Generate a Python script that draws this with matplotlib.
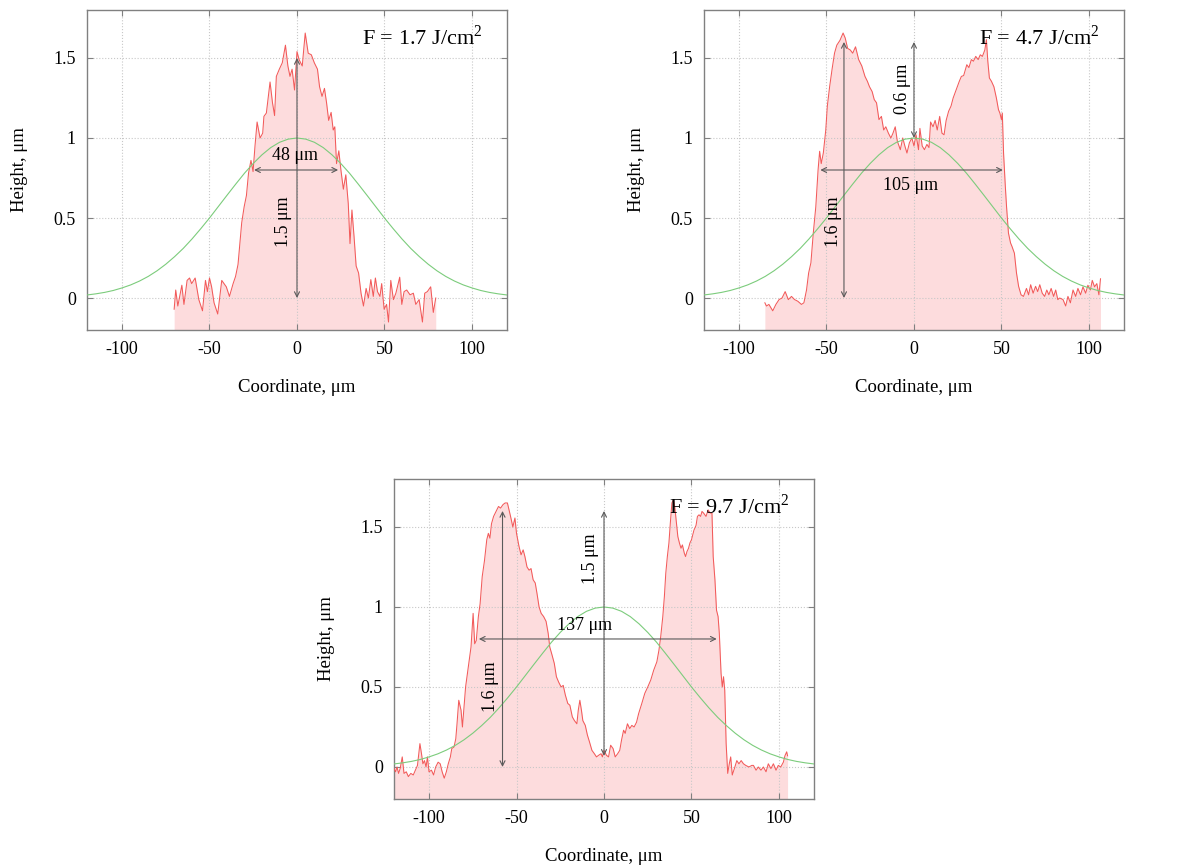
"""Surface profiles of laser craters at three fluences with the Gaussian beam profile"""
import matplotlib.pyplot as plt
from matplotlib.ticker import FormatStrFormatter
import numpy as np

plt.rcParams['font.family'] = ['Liberation Serif', 'DejaVu Serif']
plt.rcParams['mathtext.fontset'] = 'custom'
plt.rcParams['mathtext.rm'] = 'Liberation Serif'
plt.rcParams['axes.unicode_minus'] = False

# beam profile (normalised), read every 5 um
gauss_x = np.arange(-120, 121, 5)
gauss_y = [0.019, 0.026, 0.035, 0.047, 0.063, 0.082, 0.106, 0.135, 0.170, 0.211,
           0.258, 0.310, 0.369, 0.433, 0.500, 0.571, 0.642, 0.712, 0.780, 0.841,
           0.895, 0.940, 0.973, 0.993, 1.000, 0.993, 0.973, 0.940, 0.895, 0.841,
           0.780, 0.712, 0.642, 0.571, 0.500, 0.433, 0.369, 0.310, 0.258, 0.211,
           0.170, 0.135, 0.106, 0.082, 0.063, 0.047, 0.035, 0.026, 0.019]

# measured profiles (coordinate um, height um)
profile_17 = [
    (-70.2, -0.07), (-69.3, 0.05), (-68.1, -0.05), (-65.8, 0.08), (-64.6, -0.04), (-62.8, 0.11),
    (-61.4, 0.125), (-60.2, 0.09), (-58.2, 0.125), (-56.1, -0.01), (-54.0, -0.08), (-52.3, 0.11),
    (-51.2, 0.04), (-50.0, 0.125), (-48.8, 0.07), (-47.4, -0.03), (-45.3, -0.10), (-43.0, 0.11),
    (-40.4, 0.07), (-38.6, 0.01), (-36.5, 0.09), (-35.1, 0.135), (-33.7, 0.21), (-31.6, 0.47),
    (-30.2, 0.57), (-28.9, 0.64), (-27.7, 0.78), (-26.3, 0.86), (-25.1, 0.79), (-24.0, 0.95),
    (-22.8, 1.10), (-21.1, 1.00), (-19.6, 1.03), (-18.9, 1.135), (-17.5, 1.156), (-15.4, 1.35),
    (-14.0, 1.22), (-12.8, 1.14), (-11.8, 1.385), (-10.1, 1.43), (-8.4, 1.47), (-6.6, 1.58),
    (-5.2, 1.45), (-4.0, 1.385), (-2.8, 1.43), (-1.4, 1.30), (0.0, 1.54), (1.2, 1.49),
    (3.0, 1.45), (4.7, 1.656), (6.4, 1.53), (8.2, 1.52), (9.9, 1.47), (11.7, 1.43),
    (12.9, 1.32), (14.3, 1.26), (15.7, 1.31), (16.9, 1.22), (18.1, 1.11), (19.5, 1.16),
    (20.7, 1.05), (21.6, 1.07), (22.6, 0.84), (23.9, 0.92), (25.1, 0.80), (26.5, 0.68),
    (27.9, 0.77), (29.3, 0.59), (30.3, 0.34), (31.4, 0.55), (32.6, 0.385), (33.8, 0.20),
    (35.2, 0.156), (36.6, 0.03), (38.0, -0.05), (39.5, 0.06), (40.8, 0.0), (42.2, 0.115),
    (43.6, 0.01), (44.8, 0.125), (46.0, 0.04), (47.4, 0.01), (48.4, 0.09), (49.8, -0.07),
    (51.2, -0.04), (52.3, -0.15), (53.6, 0.11), (55.1, -0.01), (56.5, 0.03), (57.4, 0.07),
    (58.7, 0.13), (59.9, -0.04), (61.2, 0.04), (62.7, 0.05), (64.6, 0.02), (66.5, 0.03),
    (67.9, -0.04), (69.8, -0.01), (71.7, -0.15), (73.0, 0.03), (74.5, 0.04), (76.4, 0.07),
    (77.9, -0.09), (79.3, 0.0)]

profile_47 = [
    (-85.2, -0.03), (-84.3, -0.05), (-82.9, -0.04), (-80.7, -0.08), (-78.9, -0.04), (-77.1, -0.01),
    (-75.4, 0.0), (-73.6, 0.04), (-71.8, -0.01), (-70.0, 0.01), (-68.2, -0.01), (-66.4, -0.02),
    (-64.3, -0.04), (-62.9, -0.03), (-61.4, 0.05), (-60.2, 0.156), (-58.9, 0.22), (-57.5, 0.41),
    (-56.1, 0.57), (-54.8, 0.80), (-53.9, 0.917), (-53.0, 0.84), (-51.8, 0.906), (-50.4, 1.05),
    (-49.5, 1.20), (-48.2, 1.32), (-46.8, 1.43), (-45.4, 1.53), (-44.1, 1.58), (-42.3, 1.61),
    (-40.5, 1.656), (-39.3, 1.625), (-37.9, 1.56), (-36.4, 1.55), (-35.0, 1.53), (-33.4, 1.57),
    (-31.6, 1.49), (-29.8, 1.45), (-28.0, 1.385), (-26.6, 1.354), (-25.4, 1.32), (-23.9, 1.29),
    (-22.7, 1.24), (-21.4, 1.22), (-20.0, 1.115), (-18.6, 1.135), (-17.3, 1.05), (-16.1, 1.07),
    (-14.6, 1.03), (-13.2, 1.0), (-12.0, 1.03), (-10.7, 1.07), (-9.5, 0.98), (-7.8, 0.927),
    (-6.4, 1.0), (-5.2, 0.95), (-4.0, 0.906), (-2.6, 0.97), (-1.2, 1.0), (0.0, 0.95),
    (1.2, 1.02), (2.6, 0.927), (3.4, 1.06), (4.7, 0.95), (6.0, 0.927), (7.4, 0.96),
    (8.6, 0.94), (9.5, 1.10), (10.9, 1.07), (12.1, 1.11), (13.3, 1.05), (14.7, 1.135),
    (16.0, 1.03), (17.2, 1.02), (18.4, 1.11), (19.8, 1.167), (21.2, 1.20), (22.4, 1.25),
    (24.1, 1.30), (25.9, 1.354), (27.1, 1.385), (28.4, 1.39), (30.2, 1.458), (31.4, 1.44),
    (32.8, 1.49), (34.0, 1.48), (35.3, 1.51), (36.7, 1.49), (37.9, 1.52), (39.1, 1.51),
    (40.5, 1.55), (41.4, 1.615), (42.2, 1.48), (43.1, 1.375), (44.3, 1.354), (45.7, 1.32),
    (47.1, 1.25), (48.3, 1.177), (49.1, 1.156), (50.0, 1.115), (50.5, 1.156), (51.2, 0.906),
    (52.2, 0.70), (52.9, 0.573), (54.0, 0.406), (55.2, 0.344), (56.0, 0.323), (57.4, 0.28),
    (58.6, 0.156), (59.8, 0.073), (61.2, 0.02), (62.6, 0.01), (64.3, 0.06), (65.5, 0.02),
    (66.7, 0.083), (68.1, 0.03), (69.5, 0.073), (70.7, 0.04), (71.9, 0.083), (73.3, 0.03),
    (74.7, 0.01), (75.9, 0.05), (77.1, 0.02), (78.4, 0.06), (79.8, 0.01), (81.0, 0.05),
    (82.2, -0.01), (83.3, 0.0), (85.2, -0.01), (86.7, -0.05), (88.0, 0.01), (89.4, -0.03),
    (90.9, 0.05), (92.4, 0.01), (93.7, 0.06), (95.2, 0.02), (96.6, 0.07), (98.1, 0.03),
    (99.4, 0.08), (100.8, 0.05), (101.9, 0.11), (103.2, 0.07), (104.5, 0.09), (105.7, 0.02),
    (106.6, 0.12)]

profile_97 = [
    (-120.0, -0.01), (-119.1, -0.03), (-118.3, 0.0), (-117.4, -0.04), (-116.5, -0.01), (-115.3, 0.063),
    (-114.3, -0.04), (-113.0, -0.03), (-111.8, -0.06), (-110.4, -0.04), (-109.0, -0.05), (-107.8, -0.02),
    (-106.6, 0.01), (-105.2, 0.146), (-104.3, 0.083), (-103.5, 0.02), (-102.6, 0.04), (-101.7, 0.0),
    (-100.9, 0.063), (-100.0, -0.03), (-98.6, -0.02), (-97.4, -0.05), (-96.2, 0.0), (-94.8, 0.03),
    (-93.6, 0.02), (-92.5, -0.03), (-91.3, -0.07), (-90.1, -0.03), (-89.0, 0.02), (-87.8, 0.063),
    (-87.0, 0.115), (-85.7, 0.125), (-84.7, 0.177), (-84.0, 0.27), (-83.0, 0.417), (-81.7, 0.355),
    (-80.9, 0.25), (-80.0, 0.376), (-79.1, 0.50), (-78.3, 0.564), (-77.0, 0.668), (-76.0, 0.75),
    (-74.8, 0.96), (-73.9, 0.77), (-73.0, 0.79), (-71.8, 0.94), (-70.8, 1.02), (-69.6, 1.19),
    (-68.3, 1.29), (-67.0, 1.42), (-66.1, 1.46), (-65.2, 1.43), (-64.3, 1.52), (-63.1, 1.566),
    (-61.7, 1.597), (-60.3, 1.628), (-59.1, 1.618), (-57.7, 1.64), (-56.5, 1.65), (-55.2, 1.65),
    (-53.4, 1.566), (-52.1, 1.50), (-50.9, 1.556), (-50.0, 1.46), (-48.6, 1.38), (-47.4, 1.326),
    (-46.2, 1.357), (-45.2, 1.315), (-44.0, 1.25), (-42.8, 1.23), (-41.7, 1.24), (-40.5, 1.17),
    (-39.3, 1.15), (-38.3, 1.085), (-37.1, 1.0), (-35.9, 0.96), (-34.5, 0.94), (-33.1, 0.91),
    (-31.9, 0.835), (-31.0, 0.75), (-29.7, 0.70), (-28.4, 0.647), (-27.2, 0.564), (-25.9, 0.53),
    (-24.5, 0.50), (-23.3, 0.51), (-22.1, 0.45), (-20.7, 0.397), (-19.5, 0.386), (-18.1, 0.313),
    (-16.9, 0.29), (-15.5, 0.27), (-14.7, 0.355), (-13.8, 0.417), (-12.9, 0.355), (-12.1, 0.29),
    (-10.7, 0.26), (-9.5, 0.20), (-8.3, 0.157), (-6.9, 0.104), (-5.5, 0.083), (-4.3, 0.063),
    (-3.1, 0.073), (-1.7, 0.083), (-0.9, 0.063), (0.0, 0.104), (1.4, 0.073), (2.6, 0.063),
    (3.8, 0.136), (5.2, 0.115), (6.4, 0.063), (7.8, 0.083), (9.0, 0.104), (10.0, 0.167),
    (11.2, 0.23), (12.1, 0.21), (13.4, 0.27), (14.7, 0.24), (15.9, 0.26), (17.2, 0.25),
    (18.6, 0.28), (19.8, 0.334), (21.6, 0.397), (23.3, 0.46), (25.0, 0.50), (26.7, 0.543),
    (28.4, 0.605), (30.2, 0.657), (31.4, 0.73), (32.4, 0.814), (33.6, 0.94), (34.5, 1.065),
    (35.3, 1.21), (36.2, 1.315), (37.1, 1.40), (37.9, 1.524), (38.8, 1.65), (39.7, 1.67),
    (40.5, 1.62), (41.4, 1.524), (42.2, 1.44), (43.1, 1.40), (44.0, 1.367), (44.8, 1.388),
    (45.9, 1.336), (46.6, 1.315), (47.4, 1.346), (48.3, 1.367), (49.1, 1.40), (50.0, 1.42),
    (51.4, 1.48), (52.6, 1.51), (53.4, 1.566), (54.3, 1.576), (55.2, 1.566), (56.0, 1.597),
    (56.9, 1.587), (58.3, 1.566), (59.5, 1.607), (60.7, 1.587), (61.7, 1.587), (62.4, 1.315),
    (63.4, 1.17), (64.3, 0.98), (65.2, 0.94), (65.9, 0.835), (66.9, 0.585), (67.6, 0.50),
    (68.3, 0.564), (69.0, 0.48), (69.8, 0.146), (70.7, -0.04), (71.6, 0.02), (72.4, 0.063),
    (73.3, -0.05), (74.5, -0.01), (75.9, 0.04), (77.1, 0.02), (78.4, 0.04), (79.7, 0.02),
    (81.0, 0.01), (82.8, 0.0), (84.5, 0.01), (85.4, 0.01), (86.9, -0.02), (88.2, 0.0),
    (89.7, -0.02), (91.1, 0.0), (92.6, -0.03), (93.9, 0.02), (95.4, -0.01), (96.8, 0.02),
    (98.3, -0.02), (99.6, 0.01), (101.0, 0.0), (102.5, 0.03), (103.4, 0.07), (104.4, 0.095),
    (104.9, 0.07)]

fluences = ['1.7', '4.7', '9.7']
x_ticks = [-100, -50, 0, 50, 100]
y_ticks = [0, 0.5, 1, 1.5]

RED = '#f25a5a'
FILL = '#fddcdd'
GREEN = '#7ccc7c'
ARROW = '#5a5a5a'
YMIN = -0.2


def arrow(axe, x0, y0, x1, y1):
    axe.annotate('', xy=(x1, y1), xytext=(x0, y0),
                 arrowprops=dict(arrowstyle='<->', color=ARROW, lw=0.8,
                                 shrinkA=0, shrinkB=0, mutation_scale=9))


def plot_panel(axe, profile, fluence):
    x, y = np.array(profile).T
    axe.fill_between(x, y, YMIN, color=FILL, lw=0, zorder=1)
    axe.plot(x, y, color=RED, lw=0.75, zorder=3)
    axe.plot(gauss_x, gauss_y, color=GREEN, lw=0.8, zorder=3)

    axe.set_xlim(-120, 120)
    axe.set_ylim(YMIN, 1.8)
    axe.set_xticks(x_ticks)
    axe.set_yticks(y_ticks)
    axe.yaxis.set_major_formatter(FormatStrFormatter('%g'))
    axe.tick_params(direction='in', length=4, width=0.8, color='#808080',
                    labelsize=13, pad=8, top=True, right=True)
    for spine in axe.spines.values():
        spine.set_color('#808080')
        spine.set_linewidth(1.0)
    axe.grid(color='#c8c8c8', linestyle=':', linewidth=0.8)

    axe.set_xlabel('Coordinate, μm', fontsize=13.5, labelpad=15)
    axe.set_ylabel('Height, μm', fontsize=13.5, labelpad=18)
    axe.text(37, 1.63, 'F = ' + fluence + ' J/cm$^2$', fontsize=16, va='center', ha='left')


fig = plt.figure(figsize=(11.79, 8.68), dpi=100, facecolor='w')
ax1 = fig.add_axes([0.0738, 0.6198, 0.3562, 0.3687])
ax2 = fig.add_axes([0.5971, 0.6198, 0.3562, 0.3687])
ax3 = fig.add_axes([0.3342, 0.0795, 0.3562, 0.3687])

plot_panel(ax1, profile_17, fluences[0])
plot_panel(ax2, profile_47, fluences[1])
plot_panel(ax3, profile_97, fluences[2])

# dimension arrows and labels
arrow(ax1, 0, 0, 0, 1.5)
arrow(ax1, -24.5, 0.8, 23.5, 0.8)
ax1.text(-1, 0.89, '48 μm', fontsize=13, ha='center', va='center')
ax1.text(-7.5, 0.48, '1.5 μm', fontsize=13, ha='center', va='center', rotation=90)

arrow(ax2, -40, 0, -40, 1.6)
arrow(ax2, 0, 1.0, 0, 1.6)
arrow(ax2, -53.5, 0.8, 50.8, 0.8)
ax2.text(-2, 0.70, '105 μm', fontsize=13, ha='center', va='center')
ax2.text(-46, 0.48, '1.6 μm', fontsize=13, ha='center', va='center', rotation=90)
ax2.text(-6.5, 1.31, '0.6 μm', fontsize=13, ha='center', va='center', rotation=90)

arrow(ax3, -58, 0, -58, 1.6)
arrow(ax3, 0, 0.07, 0, 1.6)
arrow(ax3, -71.5, 0.8, 64.4, 0.8)
ax3.text(-11, 0.885, '137 μm', fontsize=13, ha='center', va='center')
ax3.text(-65, 0.50, '1.6 μm', fontsize=13, ha='center', va='center', rotation=90)
ax3.text(-8, 1.30, '1.5 μm', fontsize=13, ha='center', va='center', rotation=90)

plt.savefig('out.png', dpi=100)
